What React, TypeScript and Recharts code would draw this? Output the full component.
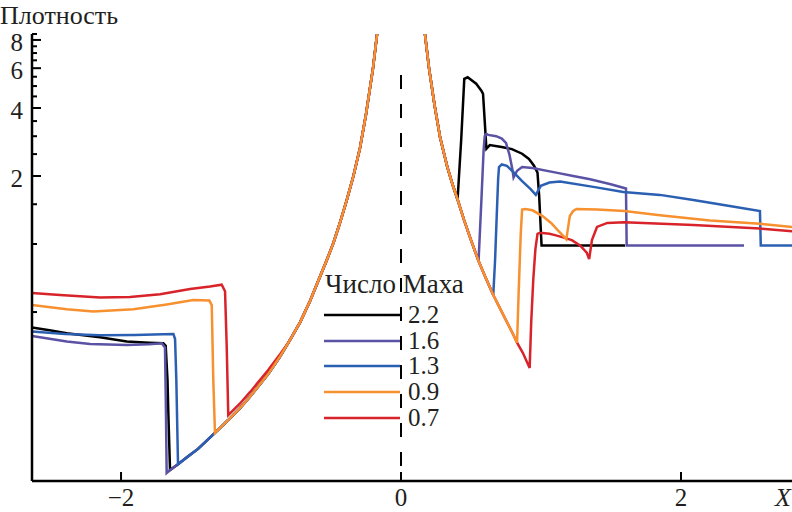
import React from "react";
import { LineChart, Line, XAxis, YAxis, ReferenceLine } from "recharts";

// ---- Data (x position, density) ----
const leftEnvX = [-1.674, -1.65, -1.593, -1.52, -1.45, -1.329, -1.236, -1.15, -1.079, -0.95, -0.864, -0.8, -0.721, -0.65, -0.579, -0.53, -0.484, -0.44, -0.388, -0.34, -0.293, -0.25, -0.2, -0.171, -0.15, -0.13];
const leftEnvY = [0.097, 0.1, 0.106, 0.115, 0.124, 0.146, 0.166, 0.188, 0.211, 0.265, 0.318, 0.37, 0.45, 0.56, 0.717, 0.85, 1.007, 1.22, 1.56, 2.0, 2.66, 3.75, 6.0, 8.5, 10.5, 14];
const rightEnvX = [0.13, 0.15, 0.171, 0.2, 0.24, 0.279, 0.33, 0.37, 0.404, 0.45, 0.5, 0.554, 0.6, 0.659, 0.7, 0.75, 0.8, 0.829, 0.87, 0.919];
const rightEnvY = [14, 10.5, 8.5, 6.0, 4.1, 2.97, 2.2, 1.82, 1.574, 1.28, 1.04, 0.841, 0.72, 0.595, 0.53, 0.46, 0.4, 0.366, 0.33, 0.283];

const blackLeftX = [-2.636, -2.5, -2.388, -2.15, -1.959, -1.8, -1.698, -1.681, -1.668, -1.662];
const blackLeftY = [0.427, 0.414, 0.403, 0.387, 0.37, 0.366, 0.364, 0.355, 0.25, 0.178];
const blackRightX = [0.43, 0.452, 0.476, 0.537, 0.574, 0.586, 0.598, 0.61, 0.634, 0.719, 0.792, 0.865, 0.914, 0.95, 0.975, 0.987, 1.004, 1.6];
const blackRightY = [2.9, 5.38, 5.47, 5.12, 4.77, 4.62, 3.5, 2.64, 2.74, 2.69, 2.63, 2.51, 2.38, 2.22, 2.07, 1.63, 0.985, 0.985];

const purpleLeftX = [-2.636, -2.5, -2.388, -2.221, -1.959, -1.8, -1.709, -1.686, -1.68, -1.674];
const purpleLeftY = [0.392, 0.38, 0.37, 0.361, 0.357, 0.36, 0.364, 0.348, 0.2, 0.097];
const purpleRightX = [0.575, 0.59, 0.598, 0.61, 0.623, 0.68, 0.72, 0.75, 0.775, 0.795, 0.804, 0.829, 0.865, 0.939, 1.108, 1.23, 1.351, 1.498, 1.607, 1.612, 2.45];
const purpleRightY = [1.6, 2.6, 3.0, 3.07, 3.04, 3.0, 2.93, 2.8, 2.48, 2.15, 1.97, 2.11, 2.19, 2.17, 2.07, 2.0, 1.935, 1.84, 1.76, 0.985, 0.985];

const blueLeftX = [-2.636, -2.4, -2.15, -1.9, -1.7, -1.626, -1.614, -1.605, -1.593];
const blueLeftY = [0.41, 0.4, 0.395, 0.396, 0.399, 0.4, 0.38, 0.25, 0.106];
const blueRightX = [0.672, 0.685, 0.694, 0.7, 0.72, 0.756, 0.793, 0.865, 0.926, 0.963, 0.999, 1.06, 1.136, 1.374, 1.588, 1.85, 2.088, 2.326, 2.564, 2.57, 2.793];
const blueRightY = [0.85, 1.4, 1.95, 2.19, 2.25, 2.22, 2.11, 1.9, 1.75, 1.65, 1.81, 1.87, 1.89, 1.79, 1.7, 1.65, 1.565, 1.48, 1.4, 0.985, 0.985];

const orangeLeftX = [-2.636, -2.388, -2.198, -1.912, -1.674, -1.484, -1.369, -1.352, -1.341, -1.329];
const orangeLeftY = [0.537, 0.514, 0.503, 0.514, 0.54, 0.565, 0.562, 0.537, 0.25, 0.146];
const orangeRightX = [0.84, 0.855, 0.865, 0.889, 0.939, 1.011, 1.072, 1.121, 1.157, 1.181, 1.195, 1.206, 1.23, 1.254, 1.4, 1.595, 1.85, 2.207, 2.564, 2.793];
const orangeRightY = [0.6, 1.1, 1.42, 1.43, 1.41, 1.33, 1.24, 1.15, 1.09, 1.05, 1.2, 1.33, 1.4, 1.43, 1.42, 1.4, 1.34, 1.27, 1.23, 1.19];

const redLeftX = [-2.636, -2.436, -2.15, -1.936, -1.721, -1.507, -1.364, -1.281, -1.257, -1.245, -1.234, -1.15, -1.079, -0.95, -0.864];
const redLeftY = [0.607, 0.595, 0.58, 0.583, 0.6, 0.632, 0.649, 0.661, 0.618, 0.35, 0.175, 0.197, 0.221, 0.276, 0.325];
const redRightX = [0.93, 0.945, 0.96, 0.975, 0.99, 1.01, 1.06, 1.1, 1.157, 1.22, 1.279, 1.327, 1.344, 1.364, 1.4, 1.474, 1.595, 2.088, 2.564, 2.793];
const redRightY = [0.45, 0.7, 0.95, 1.11, 1.12, 1.12, 1.11, 1.095, 1.07, 1.04, 0.986, 0.915, 0.857, 1.04, 1.19, 1.24, 1.25, 1.214, 1.17, 1.14];

const machLabels = ["2.2", "1.6", "1.3", "0.9", "0.7"];
const colors = ["#000000", "#5a52a5", "#2b5fb2", "#f7902f", "#d8232a"];
const xTicks = [-2, 0, 2];
const yTicks = [0.5, 1, 1.5, 2, 2.5, 3, 3.5, 4, 4.5, 5, 5.5, 6, 6.5, 7, 7.5, 8, 8.5];
const yMajor = [2, 4, 6, 8];

type P = { x: number; y: number };
const pts = (xs: number[], ys: number[]): P[] => xs.map((x, i) => ({ x, y: ys[i] }));
const leftEnv = pts(leftEnvX, leftEnvY);
const rightEnv = pts(rightEnvX, rightEnvY);

const blackData = [...pts(blackLeftX, blackLeftY), ...leftEnv.filter((p) => p.x > -1.662), ...rightEnv.filter((p) => p.x <= 0.404), ...pts(blackRightX, blackRightY)];
const purpleData = [...pts(purpleLeftX, purpleLeftY), ...leftEnv.filter((p) => p.x > -1.674), ...rightEnv.filter((p) => p.x <= 0.554), ...pts(purpleRightX, purpleRightY)];
const blueData = [...pts(blueLeftX, blueLeftY), ...leftEnv.filter((p) => p.x > -1.593), ...rightEnv.filter((p) => p.x <= 0.659), ...pts(blueRightX, blueRightY)];
const orangeData = [...pts(orangeLeftX, orangeLeftY), ...leftEnv.filter((p) => p.x > -1.329), ...rightEnv.filter((p) => p.x <= 0.829), ...pts(orangeRightX, orangeRightY)];
const redData = [...pts(redLeftX, redLeftY), ...leftEnv.filter((p) => p.x > -0.864), ...rightEnv.filter((p) => p.x <= 0.919), ...pts(redRightX, redRightY)];

const FONT = "Liberation Serif";
const TXT = "#231f20";

const YTick = (props: any) => {
  const { x, y, payload } = props;
  const v = payload.value;
  const major = yMajor.includes(v);
  return (
    <g>
      <line x1={x} y1={y} x2={x + (major ? 9 : 5)} y2={y} stroke="#000" strokeWidth={2} />
      {major && (
        <text x={x - 9} y={y + 11} textAnchor="end" style={{ fontFamily: FONT }} fontSize={25} fill={TXT}>
          {v}
        </text>
      )}
    </g>
  );
};

const XTick = (props: any) => {
  const { x, y, payload } = props;
  const v = payload.value;
  const label = v < 0 ? "\u2212" + Math.abs(v) : String(v);
  return (
    <g>
      <line x1={x} y1={y} x2={x} y2={y - 9} stroke="#000" strokeWidth={2} />
      <text x={x} y={y + 25} textAnchor="middle" style={{ fontFamily: FONT }} fontSize={25} fill={TXT}>
        {label}
      </text>
    </g>
  );
};

const series = [blackData, purpleData, blueData, redData, orangeData];
const seriesColors = [colors[0], colors[1], colors[2], colors[4], colors[3]];

export default function App() {
  const legendY = [315, 341, 366, 392, 418];
  return (
    <div style={{ position: "absolute", left: 0, top: 0, width: 792, height: 512, background: "#fff", fontFamily: FONT }}>
      <LineChart width={792} height={512} margin={{ top: 34, right: 0, bottom: 0, left: 0 }}>
        <XAxis
          type="number"
          dataKey="x"
          domain={[-2.636, 2.793]}
          allowDataOverflow
          ticks={xTicks}
          tick={<XTick />}
          tickLine={false}
          tickSize={0}
          tickMargin={0}
          height={31}
          axisLine={{ stroke: "#000", strokeWidth: 2.5 }}
        />
        <YAxis
          type="number"
          dataKey="y"
          scale="log"
          domain={[0.0894, 8.5]}
          allowDataOverflow
          ticks={yTicks}
          tick={<YTick />}
          tickLine={false}
          tickSize={0}
          tickMargin={0}
          width={32}
          interval={0}
          axisLine={{ stroke: "#000", strokeWidth: 2.5 }}
        />
        <ReferenceLine
          segment={[{ x: 0, y: 5.6 }, { x: 0, y: 0.09 }]}
          stroke="#000"
          strokeWidth={2}
          strokeDasharray="14 15"
        />
        {series.map((d, i) => (
          <Line
            key={i}
            data={d}
            dataKey="y"
            type="linear"
            stroke={seriesColors[i]}
            strokeWidth={2.5}
            dot={false}
            activeDot={false}
            isAnimationActive={false}
          />
        ))}
      </LineChart>
      <svg width={792} height={512} style={{ position: "absolute", left: 0, top: 0, pointerEvents: "none", fontFamily: FONT }}>
        <text x={0} y={24} fontSize={26} fill={TXT}>Плотность</text>
        <text x={325} y={293} fontSize={27} fill={TXT}>Число Маха</text>
        {machLabels.map((m, i) => (
          <g key={m}>
            <line x1={324} y1={legendY[i]} x2={400} y2={legendY[i]} stroke={colors[i]} strokeWidth={2.5} />
            <text x={408} y={legendY[i] + 8} fontSize={25} fill={TXT}>{m}</text>
          </g>
        ))}
        <text x={775} y={506} fontSize={26} fontStyle="italic" fill={TXT}>X</text>
      </svg>
    </div>
  );
}
